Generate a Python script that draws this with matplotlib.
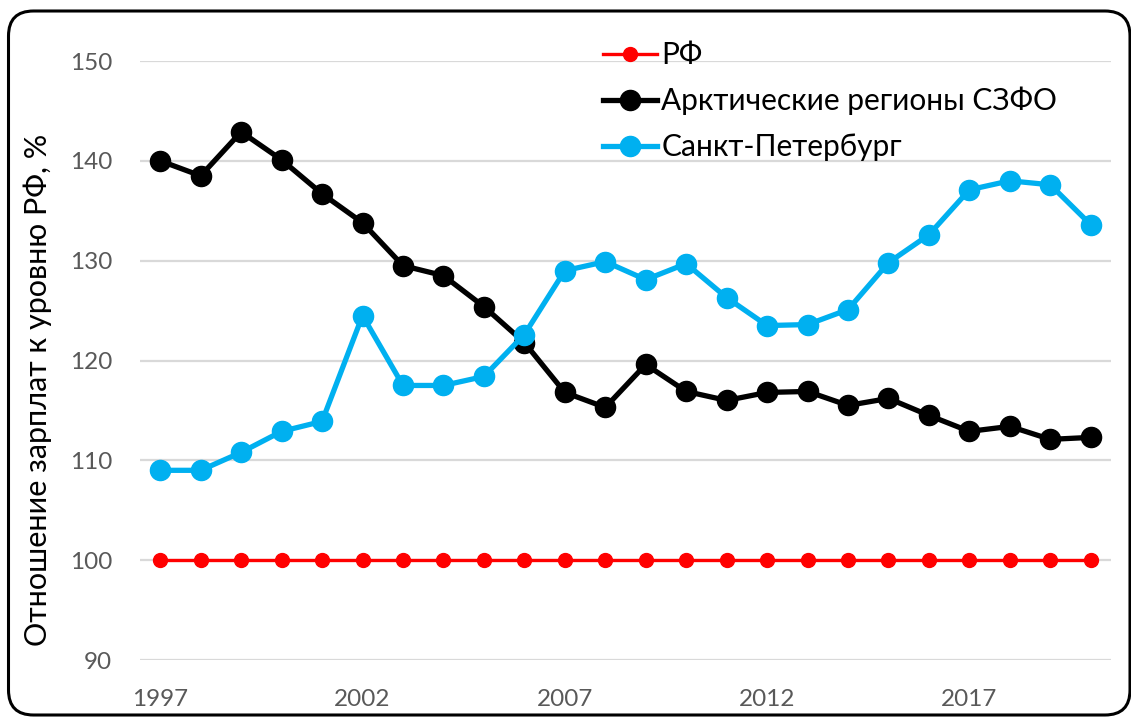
import matplotlib.pyplot as plt
from matplotlib.patches import FancyBboxPatch

years = list(range(1997, 2021))

rf = [100] * 24

arctic = [140.0, 138.5, 142.9, 140.1, 136.7, 133.8, 129.5, 128.5, 125.4, 121.8,
          116.8, 115.3, 119.6, 116.9, 116.0, 116.8, 116.9, 115.5, 116.2, 114.5,
          112.9, 113.4, 112.1, 112.3]

spb = [109.0, 109.0, 110.8, 112.9, 113.9, 124.5, 117.5, 117.5, 118.4, 122.6,
       129.0, 129.9, 128.1, 129.7, 126.3, 123.5, 123.6, 125.1, 129.8, 132.6,
       137.1, 138.0, 137.6, 133.6]

labels = ["РФ", "Арктические регионы СЗФО", "Санкт-Петербург"]
xticks = [1997, 2002, 2007, 2012, 2017]
yticks = [90, 100, 110, 120, 130, 140, 150]

plt.rcParams["font.family"] = ["Lato", "DejaVu Sans"]

fig = plt.figure(figsize=(11.31, 7.17), dpi=100)
ax = fig.add_axes([140 / 1131, 1 - 660 / 717, 971 / 1131, 599 / 717])

ax.plot(years, rf, color="#FF0000", lw=2.4, marker="o", ms=10, label=labels[0], zorder=3)
ax.plot(years, arctic, color="#000000", lw=3.8, marker="o", ms=14.5, label=labels[1], zorder=4)
ax.plot(years, spb, color="#00B0F0", lw=3.8, marker="o", ms=14.5, label=labels[2], zorder=5)

ax.set_xlim(1996.5, 2020.5)
ax.set_ylim(90, 150)
ax.set_xticks(xticks)
ax.set_yticks(yticks)
ax.grid(axis="y", color="#D9D9D9", lw=1.6, zorder=0)
ax.set_axisbelow(True)
for s in ax.spines.values():
    s.set_visible(False)
ax.tick_params(length=0, labelsize=17.5, colors="#595959")
ax.tick_params(axis="y", pad=20)
ax.tick_params(axis="x", pad=21)
for ln in ax.lines:
    ln.set_clip_on(False)

fig.text(38 / 1131, 1 - 390 / 717, "Отношение зарплат к уровню РФ, %",
         rotation=90, ha="center", va="center", fontsize=22, color="#000000")

leg = ax.legend(loc="upper left", bbox_to_anchor=(603 / 1131, 1 - 41 / 717),
                bbox_transform=fig.transFigure, frameon=False, fontsize=21.5,
                handlelength=1.8, handletextpad=0.15, labelspacing=0.6,
                borderpad=0, borderaxespad=0)

border = FancyBboxPatch((0.085, 0.02), 11.215, 7.04,
                        boxstyle="round,pad=0,rounding_size=0.25",
                        transform=fig.dpi_scale_trans, fill=False,
                        edgecolor="black", lw=2.2, clip_on=False)
fig.patches.append(border)

fig.savefig("out.png", dpi=100)
